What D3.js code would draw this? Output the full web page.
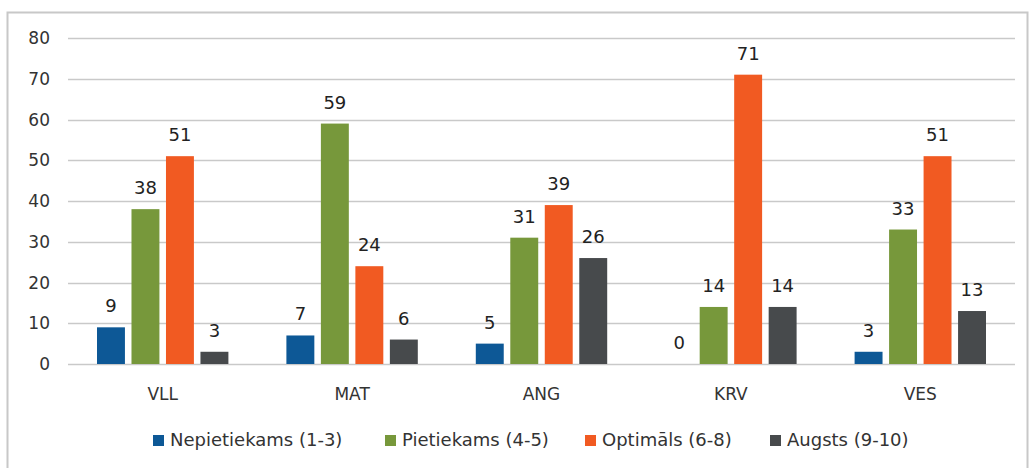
<!DOCTYPE html>
<html>
<head>
<meta charset="utf-8">
<script src="https://cdn.jsdelivr.net/npm/d3@7"></script>
<style>
  body { margin: 0; background: #fff; }
  svg text { font-family: "DejaVu Sans", "Open Sans", sans-serif; }
</style>
</head>
<body>
<div id="chart"></div>
<script>
// chart data
const categories = ["VLL", "MAT", "ANG", "KRV", "VES"];
const seriesNames = ["Nepietiekams (1-3)", "Pietiekams (4-5)", "Optimāls (6-8)", "Augsts (9-10)"];
const nepietiekams = [9, 7, 5, 0, 3];
const pietiekams = [38, 59, 31, 14, 33];
const optimals = [51, 24, 39, 71, 51];
const augsts = [3, 6, 26, 14, 13];
const yTicks = [0, 10, 20, 30, 40, 50, 60, 70, 80];

const seriesValues = [nepietiekams, pietiekams, optimals, augsts];
const colors = ["#0d5896", "#77983b", "#f15a22", "#474a4c"];

const width = 1032, height = 468;
const margin = { left: 68, right: 17, top: 38, bottom: 104 };

const svg = d3.select("#chart")
    .append("svg")
    .attr("width", width)
    .attr("height", height);

// outer frame
svg.append("rect")
    .attr("x", 7.5)
    .attr("y", 12.5)
    .attr("width", 1020)
    .attr("height", 470)
    .attr("fill", "none")
    .attr("stroke", "#c8c8c8")
    .attr("stroke-width", 2);

const y = d3.scaleLinear()
    .domain([0, 80])
    .range([height - margin.bottom, margin.top]);

const x0 = d3.scaleBand()
    .domain(categories)
    .range([margin.left, width - margin.right])
    .padding(0);

const groupGap = 29;
const x1 = d3.scaleBand()
    .domain(d3.range(seriesNames.length))
    .range([groupGap, x0.bandwidth() - groupGap])
    .paddingInner(0.19)
    .paddingOuter(0);

// gridlines
svg.append("g")
    .selectAll("line")
    .data(yTicks)
    .join("line")
    .attr("x1", margin.left)
    .attr("x2", width - margin.right)
    .attr("y1", d => Math.round(y(d)) + 0.5)
    .attr("y2", d => Math.round(y(d)) + 0.5)
    .attr("stroke", "#c9c9c9")
    .attr("stroke-width", 1.5);

// y axis labels
svg.append("g")
    .selectAll("text")
    .data(yTicks)
    .join("text")
    .attr("x", 50)
    .attr("y", d => y(d))
    .attr("dy", "0.36em")
    .attr("text-anchor", "end")
    .attr("fill", "#333")
    .style("font-size", "17px")
    .text(d => d);

// bars
const groups = svg.append("g")
    .selectAll("g")
    .data(categories)
    .join("g")
    .attr("transform", d => `translate(${x0(d)},0)`);

groups.selectAll("rect")
    .data((c, ci) => seriesValues.map((vals, si) => ({ si, v: vals[ci] })))
    .join("rect")
    .attr("x", d => x1(d.si))
    .attr("width", x1.bandwidth())
    .attr("y", d => y(d.v))
    .attr("height", d => y(0) - y(d.v))
    .attr("fill", d => colors[d.si]);

groups.selectAll("text")
    .data((c, ci) => seriesValues.map((vals, si) => ({ si, v: vals[ci] })))
    .join("text")
    .attr("x", d => x1(d.si) + x1.bandwidth() / 2)
    .attr("y", d => y(d.v) - 15)
    .attr("text-anchor", "middle")
    .attr("fill", "#222")
    .style("font-size", "18px")
    .text(d => d.v);

// category labels
svg.append("g")
    .selectAll("text")
    .data(categories)
    .join("text")
    .attr("x", d => x0(d) + x0.bandwidth() / 2)
    .attr("y", 400)
    .attr("text-anchor", "middle")
    .attr("fill", "#333")
    .style("font-size", "17px")
    .text(d => d);

// legend
const legendX = [153, 385, 585, 770];
const legend = svg.append("g")
    .selectAll("g")
    .data(seriesNames)
    .join("g")
    .attr("transform", (d, i) => `translate(${legendX[i]},440)`);

legend.append("rect")
    .attr("x", 0)
    .attr("y", -5)
    .attr("width", 11)
    .attr("height", 11)
    .attr("fill", (d, i) => colors[i]);

legend.append("text")
    .attr("x", 17)
    .attr("y", 0)
    .attr("dy", "0.36em")
    .attr("fill", "#333")
    .style("font-size", "18px")
    .text(d => d);
</script>
</body>
</html>
